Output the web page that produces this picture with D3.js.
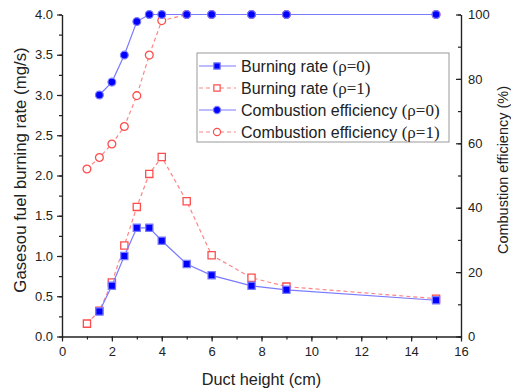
<!DOCTYPE html>
<html><head><meta charset="utf-8">
<script src="https://cdn.jsdelivr.net/npm/d3@7"></script>
<style>body{margin:0;background:#fff}svg{display:block}text{font-family:"Liberation Sans",Arial,sans-serif;fill:#222}</style>
</head><body><svg id="c" width="511" height="391"></svg>
<script>
const xBR0 = [1.5, 2, 2.5, 3, 3.5, 4, 5, 6, 7.6, 9, 15];
const burningRate0 = [0.31, 0.63, 1.0, 1.35, 1.35, 1.19, 0.90, 0.76, 0.63, 0.58, 0.45];
const xBR1 = [1, 1.5, 2, 2.5, 3, 3.5, 4, 5, 6, 7.6, 9, 15];
const burningRate1 = [0.16, 0.32, 0.67, 1.13, 1.61, 2.02, 2.23, 1.68, 1.01, 0.73, 0.62, 0.47];
const xCE0 = [1.5, 2, 2.5, 3, 3.5, 4, 5, 6, 7.6, 9, 15];
const combEff0 = [75, 79, 87.4, 97.8, 100, 100, 100, 100, 100, 100, 100];
const xCE1 = [1, 1.5, 2, 2.5, 3, 3.5, 4, 5, 6, 7.6, 9, 15];
const combEff1 = [52, 55.6, 59.8, 65.2, 74.8, 87.4, 98.1, 100, 100, 100, 100, 100];
const xTicks = [0, 2, 4, 6, 8, 10, 12, 14, 16];
const yLeftTicks = [0, 0.5, 1.0, 1.5, 2.0, 2.5, 3.0, 3.5, 4.0];
const yRightTicks = [0, 20, 40, 60, 80, 100];
const legendLabels = [["Burning rate ", "(ρ=0)"], ["Burning rate ", "(ρ=1)"], ["Combustion efficiency ", "(ρ=0)"], ["Combustion efficiency ", "(ρ=1)"]];

const svg = d3.select("#c");
const X0 = 62, X1 = 461, Y0 = 336.5, Y1 = 14.5;
const x = d3.scaleLinear().domain([0, 16]).range([X0, X1]);
const yL = d3.scaleLinear().domain([0, 4]).range([Y0, Y1]);
const yR = d3.scaleLinear().domain([0, 100]).range([Y0, Y1]);

const blueM = "#0000ff", blueL = "#7a7aff", redM = "#ff4d4d", redL = "#ff8585";

function styleAxis(g) {
  g.selectAll("path,line").attr("stroke", "#222").attr("stroke-width", 1.2);
  g.selectAll("text").attr("font-size", 13).attr("fill", "#222").attr("font-family", "Liberation Sans, Arial, sans-serif");
}
const gx = svg.append("g").attr("transform", `translate(0,${Y0})`)
  .call(d3.axisBottom(x).tickValues(d3.range(0, 17, 1)).tickSize(3).tickFormat("").tickSizeOuter(0));
styleAxis(gx);
const gxM = svg.append("g").attr("transform", `translate(0,${Y0})`)
  .call(d3.axisBottom(x).tickValues(xTicks).tickSize(5).tickPadding(5).tickFormat(d3.format("d")).tickSizeOuter(0));
styleAxis(gxM);

const gy = svg.append("g").attr("transform", `translate(${X0},0)`)
  .call(d3.axisLeft(yL).tickValues(d3.range(0, 4.01, 0.25)).tickSize(3).tickFormat("").tickSizeOuter(0));
styleAxis(gy);
const gyM = svg.append("g").attr("transform", `translate(${X0},0)`)
  .call(d3.axisLeft(yL).tickValues(yLeftTicks).tickSize(5).tickPadding(4).tickFormat(d3.format(".1f")).tickSizeOuter(0));
styleAxis(gyM);

const gr = svg.append("g").attr("transform", `translate(${X1},0)`)
  .call(d3.axisRight(yR).tickValues(d3.range(0, 101, 10)).tickSizeInner(-3).tickFormat("").tickSizeOuter(0));
styleAxis(gr);
const grM = svg.append("g").attr("transform", `translate(${X1},0)`)
  .call(d3.axisRight(yR).tickValues(yRightTicks).tickSizeInner(-5).tickPadding(7).tickFormat(d3.format("d")).tickSizeOuter(0));
styleAxis(grM);

svg.append("text").attr("x", (X0 + X1) / 2).attr("y", 385).attr("text-anchor", "middle").attr("font-size", 16.3).text("Duct height (cm)");
svg.append("text").attr("transform", `translate(26,170) rotate(-90)`).attr("text-anchor", "middle").attr("font-size", 16.8).text("Gasesou fuel burning rate (mg/s)");
svg.append("text").attr("transform", `translate(508,170) rotate(-90)`).attr("text-anchor", "middle").attr("font-size", 14.5).text("Combustion efficiency (%)");

function series(xs, ys, yScale, lineCol, markCol, dashed, shape, filled) {
  const pts = xs.map((d, i) => [x(d), yScale(ys[i])]);
  svg.append("path").attr("d", d3.line()(pts)).attr("fill", "none").attr("stroke", lineCol)
    .attr("stroke-width", 1.2).attr("stroke-dasharray", dashed ? "4,3" : null);
  const sym = d3.symbol().type(shape === "square" ? d3.symbolSquare : d3.symbolCircle).size(shape === "square" ? 52 : 48);
  svg.append("g").selectAll("path").data(pts).join("path")
    .attr("transform", d => `translate(${d[0]},${d[1]})`).attr("d", sym)
    .attr("fill", filled ? markCol : "#fff").attr("stroke", filled ? lineCol : markCol).attr("stroke-width", filled ? 1.2 : 1.3);
}
series(xCE1, combEff1, yR, redL, redM, true, "circle", false);
series(xBR1, burningRate1, yL, redL, redM, true, "square", false);
series(xCE0, combEff0, yR, blueL, blueM, false, "circle", true);
series(xBR0, burningRate0, yL, blueL, blueM, false, "square", true);

const lg = svg.append("g");
lg.append("rect").attr("x", 197).attr("y", 53).attr("width", 252).attr("height", 89).attr("fill", "#fff").attr("stroke", "#999").attr("stroke-width", 1);
const legSpec = [
  {col: blueL, mc: blueM, dash: false, shape: "square", filled: true},
  {col: redL, mc: redM, dash: true, shape: "square", filled: false},
  {col: blueL, mc: blueM, dash: false, shape: "circle", filled: true},
  {col: redL, mc: redM, dash: true, shape: "circle", filled: false}
];
legSpec.forEach((s, i) => {
  const yy = 66 + i * 22;
  lg.append("line").attr("x1", 199).attr("x2", 236).attr("y1", yy).attr("y2", yy).attr("stroke", s.col).attr("stroke-width", 1.2).attr("stroke-dasharray", s.dash ? "4,3" : null);
  const sym = d3.symbol().type(s.shape === "square" ? d3.symbolSquare : d3.symbolCircle).size(40);
  lg.append("path").attr("transform", `translate(217,${yy})`).attr("d", sym)
    .attr("fill", s.filled ? s.mc : "#fff").attr("stroke", s.filled ? s.col : s.mc).attr("stroke-width", 1.2);
  const t = lg.append("text").attr("x", 241).attr("y", yy + 5.5).attr("font-size", 16);
  t.append("tspan").text(legendLabels[i][0]);
  t.append("tspan").attr("font-family", "Liberation Serif, Times New Roman, serif").attr("font-size", 17).text(legendLabels[i][1]);
});
</script></body></html>
